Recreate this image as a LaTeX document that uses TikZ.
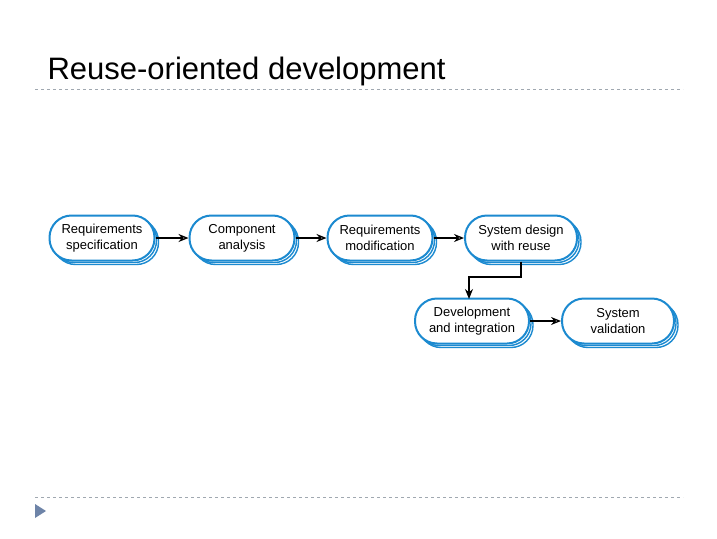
\documentclass[tikz,border=0pt]{standalone}
\usepackage{fontspec}
\setmainfont{Liberation Sans}
\usetikzlibrary{arrows.meta,shadows}
\definecolor{bb}{HTML}{1C8AD0}
\definecolor{gl}{HTML}{A0A8B0}
\definecolor{tri}{HTML}{6E84A8}
\tikzset{
 proc/.style={draw=bb,line width=2pt,fill=white,rounded corners=22pt,minimum width=105pt,minimum height=45pt,align=center,font=\fontsize{13}{16}\selectfont,inner sep=1pt,
  double copy shadow={shadow xshift=2pt,shadow yshift=-2pt,draw=bb,fill=white,line width=1.4pt}},
 arr/.style={-{Stealth[length=10pt,width=8pt,open]},line width=1.3pt}
}
\begin{document}
\begin{tikzpicture}[x=1pt,y=-1pt]
\useasboundingbox[fill=white] (0,0) rectangle (717,538);
\node[anchor=base west,font=\fontsize{31}{34}\selectfont] (t) at (44,79) {Reuse-oriented development};
\draw[gl,dashed,line width=0.8pt] (35,89) -- (683,89);
\draw[gl,dashed,line width=0.8pt] (35,497) -- (683,497);
\fill[tri] (35,504) -- (46,511) -- (35,518) -- cycle;
\node[proc] (a) at (102,238) {Requirements\\specification};
\node[proc] (b) at (242,238) {Component\\analysis};
\node[proc] (c) at (380,238) {Requirements\\modification};
\node[proc,minimum width=112pt] (d) at (521,238) {System design\\with reuse};
\node[proc,minimum width=114pt] (e) at (472,321) {Development\\and integration};
\node[proc,minimum width=112pt] (f) at (618,321) {System\\validation};
\draw[arr] (a) -- (b);
\draw[arr] (b) -- (c);
\draw[arr] (c) -- (d);
\draw[arr] (e) -- (f);
\draw[line width=1.5pt,-{Stealth[length=10pt,width=8pt]}] (d.south) |- (469,277) -- (469,299);
\end{tikzpicture}
\end{document}
